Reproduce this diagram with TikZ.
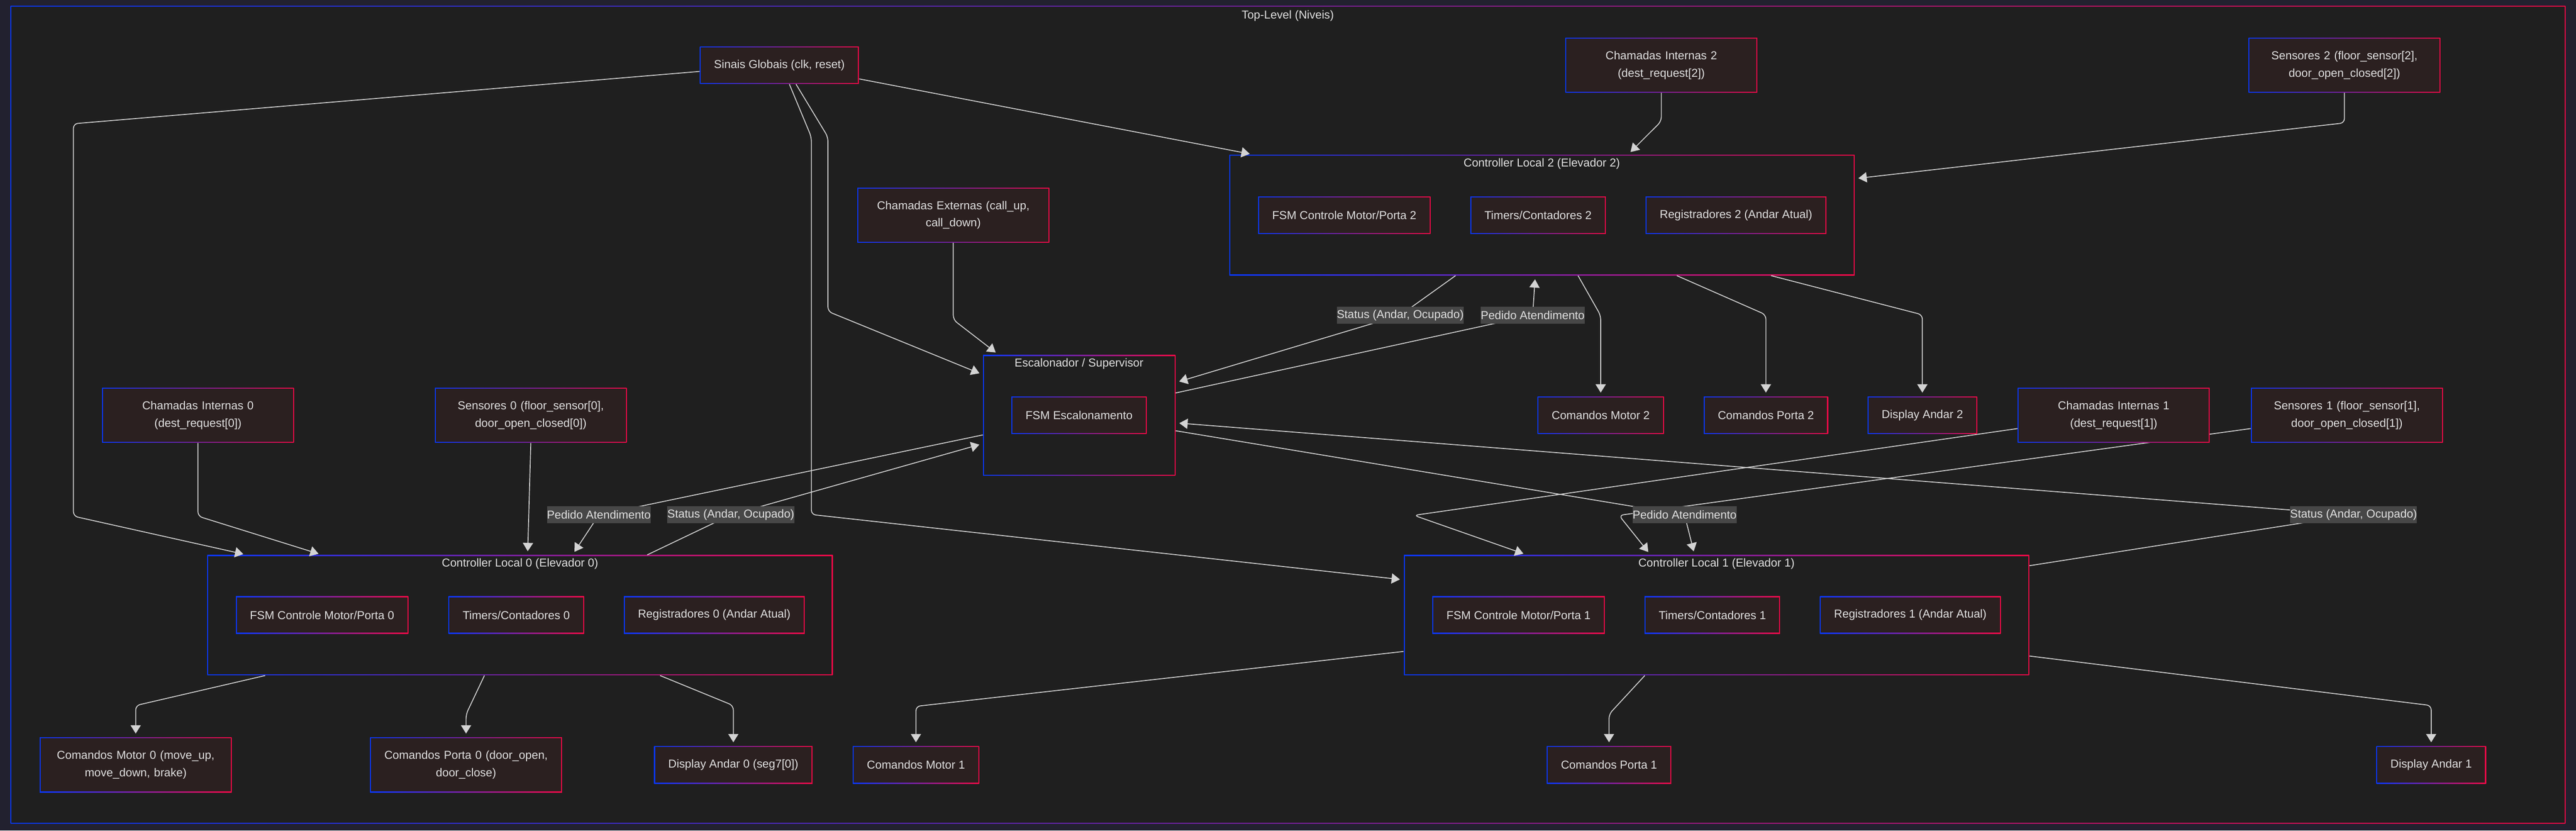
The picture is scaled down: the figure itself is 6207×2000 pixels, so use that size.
\documentclass[tikz,border=0pt]{standalone}
\usepackage{fontspec}
\setmainfont{Liberation Sans}
\usetikzlibrary{positioning,arrows.meta}
\pgfdeclarelayer{bg}
\pgfdeclarelayer{edges}
\pgfsetlayers{bg,edges,main}

\definecolor{outerbg}{RGB}{34,33,47}
\definecolor{canvas}{RGB}{31,31,31}
\definecolor{boxfill}{RGB}{43,32,32}
\definecolor{gblue}{RGB}{10,55,245}
\definecolor{gred}{RGB}{235,10,70}
\definecolor{wirecol}{RGB}{211,211,211}
\definecolor{txt}{RGB}{224,224,224}
\definecolor{lblfill}{RGB}{71,71,71}

\tikzset{
  gradborder/.style={path picture={
    \shade[left color=gblue, right color=gred]
      (path picture bounding box.south west) rectangle (path picture bounding box.north east);
    \fill[#1] ([shift={(0.65pt,0.65pt)}]path picture bounding box.south west)
      rectangle ([shift={(-0.65pt,-0.65pt)}]path picture bounding box.north east);}},
}

\begin{document}
\begin{tikzpicture}[x=0.01cm, y=-0.01cm,
    font=\fontsize{7.9pt}{11.9pt}\selectfont, text=txt,
    block/.style={gradborder=boxfill, fill=boxfill, inner xsep=0.34cm, minimum height=0.9cm},
    wblock/.style={block, text width=3.94cm, align=center, minimum height=1.32cm},
    cluster/.style={gradborder=canvas, fill=canvas, inner sep=0pt},
    ctitle/.style={inner sep=0pt},
    elabel/.style={fill=lblfill, inner xsep=0pt, inner ysep=0pt, minimum height=0.41cm},
    flow/.style={draw=wirecol, line width=0.6pt, rounded corners=3pt,
      -{Triangle[length=5.7pt,width=7pt]}, shorten >=2.5pt},
]
    % Frame and subgraphs
    \begin{pgfonlayer}{bg}
    \fill[outerbg] (0,0) rectangle (6207,2000);
    \node[cluster, minimum width=61.53cm, minimum height=19.68cm] (top) at (3103.5,999) {};
    \node[cluster, minimum width=15.05cm, minimum height=2.9cm] (cl2) at (3715.5,518) {};
    \node[cluster, minimum width=4.63cm, minimum height=2.9cm] (esc) at (2600.5,1000) {};
    \node[cluster, minimum width=15.06cm, minimum height=2.89cm] (cl0) at (1253,1481.5) {};
    \node[cluster, minimum width=15.06cm, minimum height=2.89cm] (cl1) at (4136,1481.5) {};
    \end{pgfonlayer}

    % Titles
    \node[ctitle] (topt) at (3103,38) {Top-Level (Niveis)};
    \node[ctitle] (cl2t) at (3715,394) {Controller Local 2 (Elevador 2)};
    \node[ctitle] (esct) at (2600,876) {Escalonador / Supervisor};
    \node[ctitle] (cl0t) at (1253,1358) {Controller Local 0 (Elevador 0)};
    \node[ctitle] (cl1t) at (4136,1358) {Controller Local 1 (Elevador 1)};

    % Inputs
    \node[block] (sig) at (1878,157) {Sinais Globais (clk, reset)};
    \node[wblock] (ci2) at (4003,157) {Chamadas Internas 2\\(dest\_request[2])};
    \node[wblock] (s2) at (5649,157) {Sensores 2 (floor\_sensor[2],\\door\_open\_closed[2])};
    \node[wblock] (chext) at (2297,518) {Chamadas Externas (call\_up,\\call\_down)};
    \node[wblock] (ci0) at (477,1000) {Chamadas Internas 0\\(dest\_request[0])};
    \node[wblock] (s0) at (1279,1000) {Sensores 0 (floor\_sensor[0],\\door\_open\_closed[0])};
    \node[wblock] (ci1) at (5093,1000) {Chamadas Internas 1\\(dest\_request[1])};
    \node[wblock] (s1) at (5655,1000) {Sensores 1 (floor\_sensor[1],\\door\_open\_closed[1])};

    % Controller Local 2
    \node[block] (fsm2) at (3239,518) {FSM Controle Motor/Porta 2};
    \node[block] (tim2) at (3706,518) {Timers/Contadores 2};
    \node[block] (reg2) at (4183,518) {Registradores 2 (Andar Atual)};

    % Escalonador
    \node[block] (fsme) at (2600,1000) {FSM Escalonamento};

    % Controller Local 0 / 1
    \node[block] (fsm0) at (776,1481) {FSM Controle Motor/Porta 0};
    \node[block] (tim0) at (1244,1481) {Timers/Contadores 0};
    \node[block] (reg0) at (1721,1481) {Registradores 0 (Andar Atual)};
    \node[block] (fsm1) at (3659,1481) {FSM Controle Motor/Porta 1};
    \node[block] (tim1) at (4126,1481) {Timers/Contadores 1};
    \node[block] (reg1) at (4603,1481) {Registradores 1 (Andar Atual)};

    % Outputs
    \node[block] (cm2) at (3857,1000) {Comandos Motor 2};
    \node[block] (cp2) at (4255,1000) {Comandos Porta 2};
    \node[block] (da2) at (4632,1000) {Display Andar 2};
    \node[wblock] (cm0) at (327,1842) {Comandos Motor 0 (move\_up,\\move\_down, brake)};
    \node[wblock] (cp0) at (1123,1842) {Comandos Porta 0 (door\_open,\\door\_close)};
    \node[block] (da0) at (1767,1842) {Display Andar 0 (seg7[0])};
    \node[block] (cm1) at (2207,1842) {Comandos Motor 1};
    \node[block] (cp1) at (3877,1842) {Comandos Porta 1};
    \node[block] (da1) at (5858,1842) {Display Andar 1};

    % Edge labels
    \node[elabel] (st2) at (3374,759) {Status (Andar, Ocupado)};
    \node[elabel] (pa2) at (3693,759) {Pedido Atendimento};
    \node[elabel] (pa0) at (1443,1240) {Pedido Atendimento};
    \node[elabel] (st0) at (1761,1240) {Status (Andar, Ocupado)};
    \node[elabel] (pa1) at (4059,1240) {Pedido Atendimento};
    \node[elabel] (st1) at (5671,1240) {Status (Andar, Ocupado)};

    \begin{pgfonlayer}{edges}
    % Sinais Globais
    \draw[flow] ([yshift=-0.15cm]sig.west) -- (177,298) -- (177,1243) -- ([xshift=0.96cm]cl0.north west);
    \draw[flow] ([xshift=0.24cm]sig.south) -- (1955,330) -- (1955,1239) -- ([yshift=-0.6cm]cl1.north west);
    \draw[flow] ([xshift=0.4cm]sig.south) -- (1995,330) -- (1995,750) -- ([yshift=-0.48cm]esc.north west);
    \draw[flow] ([yshift=-0.33cm]sig.east) -- ([xshift=0.58cm]cl2.north west);

    % Chamadas / Sensores
    \draw[flow] (ci2.south) -- (4003,292) -- ([xshift=2.07cm]cl2.north);
    \draw[flow] (s2.south) -- (5649,296) -- ([yshift=-0.58cm]cl2.north east);
    \draw[flow] (chext.south) -- (2297,770) -- ([xshift=0.38cm]esc.north west);
    \draw[flow] (ci0.south) -- (477,1243) -- ([xshift=2.77cm]cl0.north west);
    \draw[flow] (s0.south) -- ([xshift=7.72cm]cl0.north west);
    \draw[flow] ([yshift=-0.32cm]ci1.west) -- (3407,1241) -- ([xshift=2.97cm]cl1.north west);
    \draw[flow] ([yshift=-0.32cm]s1.west) -- (3901,1241) -- ([xshift=5.95cm]cl1.north west);

    % Status / Pedido
    \draw[flow] ([xshift=10.6cm]cl0.north west) -- (st0.center) -- ([yshift=-2.14cm]esc.north west);
    \draw[flow] ([yshift=-1.93cm]esc.north west) -- (pa0.center) -- ([xshift=8.8cm]cl0.north west);
    \draw[flow] ([xshift=5.45cm]cl2.south west) -- (st2.center) -- ([yshift=-0.67cm]esc.north east);
    \draw[flow] ([yshift=-0.92cm]esc.north east) -- (pa2.center) -- ([xshift=7.37cm]cl2.south west);
    \draw[flow] ([yshift=-0.26cm]cl1.north east) -- (st1.center) -- ([yshift=-1.64cm]esc.north east);
    \draw[flow] ([yshift=-1.83cm]esc.north east) -- (pa1.center) -- ([xshift=7.01cm]cl1.north west);

    % Comandos / Display
    \draw[flow] ([xshift=8.4cm]cl2.south west) -- (3857,760) -- (cm2.north);
    \draw[flow] ([xshift=10.78cm]cl2.south west) -- (4255,758) -- (cp2.north);
    \draw[flow] ([xshift=13.05cm]cl2.south west) -- (4632,758) -- (da2.north);
    \draw[flow] ([xshift=1.4cm]cl0.south west) -- (327,1699) -- (cm0.north);
    \draw[flow] ([xshift=6.68cm]cl0.south west) -- (1123,1720) -- (cp0.north);
    \draw[flow] ([xshift=10.91cm]cl0.south west) -- (1767,1699) -- (da0.north);
    \draw[flow] ([yshift=0.58cm]cl1.south west) -- (2207,1701) -- (cm1.north);
    \draw[flow] ([xshift=5.81cm]cl1.south west) -- (3877,1720) -- (cp1.north);
    \draw[flow] ([yshift=0.47cm]cl1.south east) -- (5858,1699) -- (da1.north);
    \end{pgfonlayer}
\end{tikzpicture}
\end{document}
